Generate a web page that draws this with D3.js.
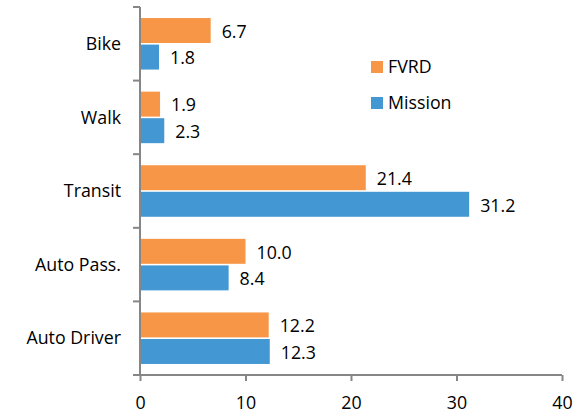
<!DOCTYPE html>
<html>
<head>
<meta charset="utf-8">
<script src="https://cdn.jsdelivr.net/npm/d3@7"></script>
<style>
  body { margin: 0; background: #fff; }
  svg text { font-family: "Open Sans", sans-serif; fill: #000; }
</style>
</head>
<body>
<div id="chart"></div>
<script>
const categories = ['Bike', 'Walk', 'Transit', 'Auto Pass.', 'Auto Driver']
const seriesNames = ['FVRD', 'Mission']
const fvrdValues = [6.7, 1.9, 21.4, 10.0, 12.2]
const missionValues = [1.8, 2.3, 31.2, 8.4, 12.3]
const xTicks = [0, 10, 20, 30, 40]
const colors = ['#F79646', '#4397D3']

const width = 581
const height = 414
const margin = { top: 7, right: 19, bottom: 39, left: 140 }
const fontSize = '17.8px'

const rows = categories.map((c, i) => ({
    category: c,
    values: [fvrdValues[i], missionValues[i]]
}))

const svg = d3.select('#chart').append('svg')
    .attr('width', width)
    .attr('height', height)

const xScale = d3.scaleLinear()
    .domain([0, 40])
    .range([margin.left, width - margin.right])

const yScale = d3.scaleBand()
    .domain(categories)
    .range([margin.top, height - margin.bottom])
    .paddingInner(0.3)
    .paddingOuter(0.15)

const subScale = d3.scaleBand()
    .domain(seriesNames)
    .range([0, yScale.bandwidth()])
    .paddingInner(0.06)

// bars
const groups = svg.append('g').selectAll('g')
    .data(rows)
    .enter()
    .append('g')
    .attr('transform', d => `translate(0, ${yScale(d.category)})`)

groups.selectAll('rect')
    .data(d => d.values.map((v, i) => ({ name: seriesNames[i], value: v, i })))
    .enter()
    .append('rect')
    .attr('x', xScale(0))
    .attr('y', d => subScale(d.name))
    .attr('width', d => xScale(d.value) - xScale(0))
    .attr('height', subScale.bandwidth())
    .attr('fill', d => colors[d.i])

groups.selectAll('text')
    .data(d => d.values.map((v, i) => ({ name: seriesNames[i], value: v })))
    .enter()
    .append('text')
    .attr('x', d => xScale(d.value) + 11)
    .attr('y', d => subScale(d.name) + subScale.bandwidth() / 2 + 1)
    .attr('dy', '0.35em')
    .style('font-size', fontSize)
    .text(d => d.value.toFixed(1))

// axes
const axisColor = '#868686'

const xAxis = d3.axisBottom(xScale)
    .tickValues(xTicks)
    .tickSize(6)
    .tickSizeOuter(0)

const gx = svg.append('g')
    .attr('transform', `translate(0, ${height - margin.bottom})`)
    .call(xAxis)
gx.select('.domain').attr('stroke', axisColor).attr('stroke-width', 2)
    .attr('d', `M${margin.left - 7},0H${width - margin.right}`)
gx.selectAll('.tick line').attr('stroke', axisColor).attr('stroke-width', 2)
gx.selectAll('.tick text')
    .attr('y', 21)
    .style('font-size', fontSize)
    .style('font-family', '"Open Sans", sans-serif')

// y axis: line plus ticks on band boundaries
const gy = svg.append('g')
gy.append('line')
    .attr('x1', margin.left).attr('x2', margin.left)
    .attr('y1', margin.top).attr('y2', height - margin.bottom)
    .attr('stroke', axisColor).attr('stroke-width', 2)

const step = yScale.step()
const bounds = d3.range(categories.length).map(i => margin.top + i * step)
gy.selectAll('.ytick')
    .data(bounds)
    .enter()
    .append('line')
    .attr('x1', margin.left - 7).attr('x2', margin.left)
    .attr('y1', d => d).attr('y2', d => d)
    .attr('stroke', axisColor).attr('stroke-width', 2)

gy.selectAll('.ylabel')
    .data(categories)
    .enter()
    .append('text')
    .attr('x', margin.left - 19)
    .attr('y', d => yScale(d) + yScale.bandwidth() / 2)
    .attr('dy', '0.35em')
    .attr('text-anchor', 'end')
    .style('font-size', fontSize)
    .text(d => d)

// legend
const legend = svg.append('g')
    .attr('transform', 'translate(371, 0)')

legend.selectAll('rect')
    .data(seriesNames)
    .enter()
    .append('rect')
    .attr('x', 0)
    .attr('y', (d, i) => 61 + i * 36)
    .attr('width', 12)
    .attr('height', 12)
    .attr('fill', (d, i) => colors[i])

legend.selectAll('text')
    .data(seriesNames)
    .enter()
    .append('text')
    .attr('x', 17)
    .attr('y', (d, i) => 67 + i * 36)
    .attr('dy', '0.35em')
    .style('font-size', fontSize)
    .text(d => d)
</script>
</body>
</html>
